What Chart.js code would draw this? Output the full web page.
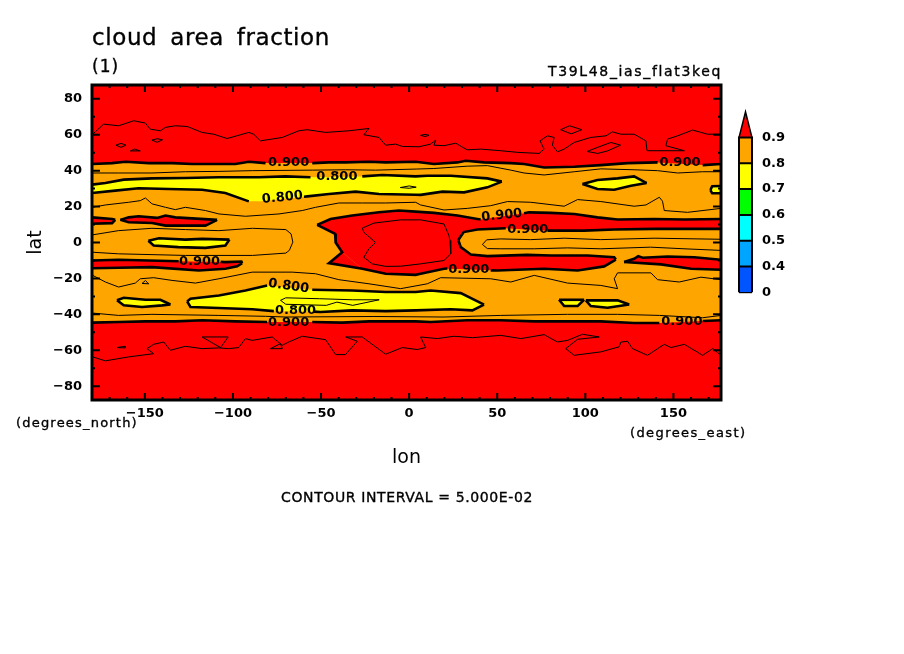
<!DOCTYPE html>
<html>
<head>
<meta charset="utf-8">
<title>cloud area fraction</title>
<script src="https://cdn.jsdelivr.net/npm/chart.js@4"></script>
<style>
html, body { margin: 0; background: #fff; }
#wrap { position: relative; width: 904px; height: 654px; overflow: hidden; font-family: "DejaVu Sans", sans-serif; color: #000; }
#wrap canvas { position: absolute; }
.txt { position: absolute; white-space: nowrap; line-height: 1; -webkit-text-stroke: .35px #000; }
</style>
</head>
<body>
<div id="wrap">
  <canvas id="mapChart" width="904" height="654" style="left:0;top:0"></canvas>
  <canvas id="barChart" width="70" height="216" style="left:729px;top:94px"></canvas>
  <div class="txt" style="left:92px;top:26px;font-size:23px;letter-spacing:.6px;word-spacing:5px">cloud area fraction</div>
  <div class="txt" style="left:92px;top:58px;font-size:17px;letter-spacing:1px">(1)</div>
  <div class="txt" style="left:548px;top:64px;font-size:14px;letter-spacing:1.65px">T39L48_ias_flat3keq</div>
  <div class="txt" style="left:16px;top:416px;font-size:13px;letter-spacing:1.2px">(degrees_north)</div>
  <div class="txt" style="left:630px;top:426px;font-size:13px;letter-spacing:1.4px">(degrees_east)</div>
  <div class="txt" style="left:281px;top:490px;font-size:14px;letter-spacing:.62px">CONTOUR INTERVAL = 5.000E-02</div>
</div>
<script>
const lonTicks = [-150, -100, -50, 0, 50, 100, 150];
const latTicks = [-80, -60, -40, -20, 0, 20, 40, 60, 80];
const barLabels = ["0", "0.4", "0.5", "0.6", "0.7", "0.8", "0.9"];
const barColors = ["#0055ff", "#00a5ff", "#00ffff", "#00ff00", "#ffff00", "#ffa500"];

// edge of the orange belt (0.9 contour)
const north90West = [[-180,43.7],[-168.6,44.2],[-161,45],[-147.8,44.2],[-134.6,44.2],[-123.2,43.7],[-98.6,43.7],[-91,45],[-81.5,44.2]];
const north90Mid = [[-55,44.2],[-45.5,44.6],[-36.1,44.6],[-22.8,45],[-13.3,44.6],[3.7,45],[14.1,43.7],[27.4,44.6],[32.1,45.5],[42.5,44.6],[57.7,44.2],[65.2,43.7],[76.6,41.8],[93.7,42.2],[108.8,43.1],[124,44.2],[141,44.6]];
const north90East = [[166.6,43.1],[177,43.7]];
const south90West = [[-180,-44.6],[-164.9,-44.3],[-149.7,-43.9],[-132.7,-43.9],[-117.5,-43.3],[-98.6,-43.9],[-80.6,-44.3]];
const south90Mid = [[-55,-44.3],[-38,-44.6],[-22.8,-43.9],[3.7,-43.9],[12.2,-44.3],[33,-43.3],[52,-43.3],[71,-43.9],[89.9,-43.9],[108.8,-43.9],[127.7,-44.8],[142,-44.8]];
const south90East = [[166.6,-43.7],[177,-43.3]];

// yellow, northern belt
const yellowNorthTopW = [[-180,32.2],[-172.4,33.1],[-162,35],[-145.9,35.7],[-127,35.9],[-108,36.3],[-85.3,36.3],[-70.2,36.8],[-56,36.3]];
const yellowNorthTopE = [[-26.6,36.8],[-15.2,37.6],[3.7,36.8],[10.3,37.2],[23.6,37.2],[44.4,35.7],[52.6,33.9]];
const yellowNorthBotW = [[-180,27.6],[-166.8,28.9],[-153.5,30.2],[-136.5,29.8],[-117.5,29.4],[-104.3,27.6],[-91,22.9],[-84,23]];
const yellowNorthBotE = [[-59.7,25.5],[-57.8,25.7],[-45.5,27],[-30.4,28.3],[-17.1,27],[3.7,26.6],[6.5,26.5],[18.9,28.3],[31.2,27.9],[44.4,30.7],[52.6,33.9]];
const yellowLens = [[-5,30.6],[0,31.5],[4,30.8],[0,30.2],[-5,30.6]];
const yellowNeTop = [[98.4,32.6],[106.9,34.8],[118.3,35.7],[127.7,36.8],[134.8,33.1]];
const yellowNeBot = [[98.4,32.6],[106.9,29.8],[116.4,29.4],[125.9,31.6],[134.8,33.1]];
const yellowEdgeTop = [[171,29.2],[172,31.3],[177,31.5]];
const yellowEdgeBot = [[171,29.2],[172,27.4],[177,27.4]];
const yellowEqTop = [[-148,1],[-142,2.4],[-127,1.6],[-117.5,2],[-102,1.6]];
const yellowEqBot = [[-148,1],[-145,-1.7],[-131,-2.6],[-115.6,-3],[-104.3,-1.7],[-102,1.6]];

// yellow, southern belt
const yellowSouthTopW = [[-126,-32.8],[-124.1,-31.3],[-108,-29.5],[-92.9,-26.7],[-80.6,-23.9]];
const yellowSouthTopE = [[-55,-26.3],[-32.3,-26.7],[-13.3,-27.6],[3.7,-27.6],[12.2,-26.7],[29.3,-28.2],[42.5,-34.6]];
const yellowSouthBotW = [[-126,-32.8],[-124.1,-35.9],[-108,-36.5],[-89.1,-37.2],[-76.8,-38.2]];
const yellowSouthBotE = [[-54,-38.5],[-50.3,-38.7],[-32.3,-37.8],[-13.3,-38.2],[3.7,-37.8],[23.6,-37.2],[35.9,-37.8],[42.5,-34.6]];
const yellowSwTop = [[-165.8,-32.2],[-162,-30.8],[-149.7,-31.9],[-141.2,-31.9],[-135.5,-34.5]];
const yellowSwBot = [[-165.8,-32.2],[-162,-35],[-151.6,-35.9],[-140.2,-35],[-135.5,-34.5]];
const yellowSeTop1 = [[85.1,-31.9],[99.3,-31.9]];
const yellowSeBot1 = [[85.1,-31.9],[88,-35.4],[95.6,-35.4],[99.3,-31.9]];
const yellowSeTop2 = [[100.3,-32.2],[118.3,-32.2],[124.9,-34.5]];
const yellowSeBot2 = [[100.3,-32.2],[103.1,-35.4],[112.6,-36.3],[124.9,-34.5]];
const yellowInner = [[-73,-32.2],[-70,-30.8],[-51,-31.3],[-32,-31.9],[-17,-31.9],[-32,-35],[-41,-33.2],[-47,-35],[-70,-34.4],[-73,-32.2]];

// red islands either side of the central blob
const redWest1Top = [[-180,14],[-168.6,13.1],[-166.8,12.6]];
const redWest1Bot = [[-180,10.4],[-168.6,10.8],[-166.8,12.6]];
const redWest2Top = [[-163.9,12.6],[-159.2,14],[-153.5,14.6],[-143.1,13.7],[-138.3,15],[-132.7,14],[-109,12.6]];
const redWest2Bot = [[-163.9,12.6],[-159.2,11.3],[-145.9,10.9],[-138.3,9.4],[-115.6,9.4],[-109,12.6]];
const redSwTopW = [[-180,-10],[-164.9,-9.6],[-147.8,-10],[-130.8,-10.4]];
const redSwTopE = [[-107,-10.8],[-104.3,-10.9],[-95.2,-10.6],[-94.8,-11.5]];
const redSwBot = [[-180,-14.3],[-164.9,-14.1],[-146,-13.7],[-119.4,-15.6],[-104.3,-14.6],[-97.6,-13.3],[-94.8,-11.5]];
const redSeTop = [[122,-10.9],[127.7,-9.1],[130,-7.6],[132.5,-8.5],[146.7,-7.8],[161.8,-8.2],[177,-9.6]];
const redSeBot = [[122,-10.9],[142.9,-12.2],[160,-14.6],[177,-15.2]];

// central red blob with its two arms
const redTopW = [[-52.2,9.8],[-44.6,13.1],[-32.3,15],[-17.1,16.8],[-5.8,17.8],[3.7,17.2],[14.1,16.5],[27.4,15],[38.7,13.1],[40.6,12.8]];
const redTopE = [[65.2,16.3],[68.1,16.8],[80.4,16.5],[93.7,15.9],[106.9,14],[118.3,12.8],[139.1,13.1],[156.2,12.8],[177,13.1]];
const tongueTopW = [[28,1.1],[28.3,2],[31,5.8],[38.7,7.2],[54.8,7.9]];
const tongueTopE = [[78.5,6.6],[82.3,6.6],[99.3,6.6],[116.4,7.2],[139.1,7.6],[177,7.6]];
const tongueLow = [[28,1.1],[29.3,-2.6],[35,-6.7],[44.4,-7.6],[67.1,-6.9],[80.4,-7.2],[101.2,-7.2],[116.4,-8.2],[117.3,-9.5]];
const armBotE = [[46.3,-15.5],[50,-15.6],[76.6,-14.6],[95.6,-15.6],[110.7,-13.3],[117.3,-9.5]];
const armBotW = [[-52.2,9.8],[-42,4.8],[-41.7,0],[-38,-5.4],[-45.5,-11.5],[-26.6,-14.6],[-13.3,-17.4],[3.7,-18],[6.5,-17.4],[19.8,-14.6],[21.7,-14.5]];
const coreTop = [[-52.2,9.8],[-44.6,13.1],[-32.3,15],[-17.1,16.8],[-5.8,17.8],[3.7,17.2],[14.1,16.5],[28.5,15]];
const coreBot = [[-52.2,9.8],[-42,4.8],[-41.7,0],[-38,-5.4],[-26.6,-14.6],[-13.3,-17.4],[3.7,-18],[6.5,-17.4],[19.8,-14.6],[28.5,-14.8]];
const tipTop = [[-45.5,-11.5],[-38,-5.4],[-26.6,-14.6]];
const tipBot = [[-45.5,-11.5],[-26.6,-14.6]];

// thin contours
const thinNorth1 = [[-179.6,38.7],[-165,38.7],[-146,38.7],[-127,39.4],[-108,39.6],[-89,40],[-55,40.3],[-36,40.5],[-19,40.3],[4,40.9],[14,41.2],[33,42.5],[44.4,42.8],[57.7,40.3],[65.2,38.7],[76.6,37.6],[93.7,39.4],[108.8,41],[127.7,40.5],[141,40],[152.4,38.7],[166.6,39.4],[177,39.4]];
const thinNorth2 = [[-179.6,19.6],[-172.4,20.9],[-159.2,22.4],[-152.6,23.3],[-149.7,24.8],[-145.9,21.5],[-138.3,19.6],[-132.7,18.3],[-127,19.6],[-115.6,17.8],[-108,15.9],[-92.9,14.6],[-73.9,15.9],[-60.7,17.8],[-53.1,19.6],[-39.9,22],[-26.6,22],[-13.3,22],[3.7,22.4],[6.5,20.9],[19.8,18.1],[33,19],[46.3,20.5],[55.8,22.8],[69,22.4],[88,20.2],[95.6,23.9],[108.8,22.8],[127.7,20.2],[134.4,20.9],[142,25.2],[143.8,23],[144.8,17.8],[158,16.8],[177,19]];
const thinEqWest = [[-180,4.2],[-165,6.6],[-146,7.9],[-127,7.2],[-108,6.6],[-89,7.9],[-70,7.2],[-67,4.8],[-66,0.2],[-68,-4.4],[-70,-5.9],[-89,-7.2],[-127,-7.2],[-165,-6.3],[-180,-5.4]];
const thinEqEast = [[177,1.8],[139,2.4],[108.8,1.6],[88,2.4],[69,1.6],[52,2],[44,1.5],[41.6,-1.1],[44.4,-3.4],[52,-3.5],[71,-3.5],[89.9,-3],[108.8,-3.5],[137,-2.6],[156,-3.5],[177,-4.4]];
const thinCore = [[-4.8,12.6],[6.5,12.6],[19.8,10.3],[22.6,3.9],[23.2,1.1],[23.6,-6.3],[19.8,-10],[6.5,-11.9],[-4.8,-13.2],[-13.3,-13.3],[-20.9,-11.9],[-25.7,-8.2],[-22.8,-3.5],[-19,0],[-25.7,5.7],[-26.6,8],[-20,10.8],[-13.3,11.6],[-4.8,12.6]];
const thinSouth1 = [[-179.6,-18.3],[-172.4,-22],[-164.9,-24.8],[-155.4,-22.6],[-152.6,-20.2],[-145,-19.6],[-134.6,-21.1],[-121.3,-22.6],[-108,-20.2],[-89.1,-16.5],[-66.4,-16.5],[-53.1,-17.4],[-39.9,-20.7],[-22.8,-23],[-4.8,-25.7],[10.3,-23],[17.9,-19.6],[46.3,-20.2],[57.7,-22],[71,-18.3],[89.9,-22.6],[108.8,-23.9],[118.3,-25.7],[116.4,-20.2],[118.3,-16.9],[137.2,-16.9],[141,-20.7],[153.3,-22],[165.6,-19.3],[177,-20.7]];
const thinSpeck = [[-151.6,-22.8],[-149.7,-21.2],[-147.8,-23],[-151.6,-22.8]];
const thinSouth2 = [[-179.6,-39.3],[-164.9,-40.6],[-146,-40],[-108,-40.6],[-81.5,-41.1],[-70,-41.5],[-20,-41.2],[19.8,-41.5],[52,-40.6],[89.9,-40],[118.3,-40],[142,-40.6],[166.6,-41.9],[177,-40.6]];

// thin contours inside the polar red caps
const capNorth = [[-179.6,60.3],[-173.4,65.9],[-164.9,65],[-156.3,67.8],[-149.7,66.5],[-146.9,63.1],[-141.2,62.2],[-138.3,64.1],[-132.7,65],[-126,64.6],[-117.5,61.3],[-110.9,60.3],[-103.3,57.9],[-91,61.3],[-88.2,60.3],[-84.4,56.6],[-72,58.5],[-62.6,62.2],[-57.9,62.8],[-47.4,61.3],[-34.2,62.2],[-22.8,63.5],[-25.7,60],[-17.1,58.5],[-13.3,54.2],[-7.7,54.8],[-3.9,53.5],[5.6,53.3],[12.2,54.8],[15.1,57],[14.1,54.2],[19.8,53.9],[26.4,55.3],[33,51.6],[40.6,52],[52,51.1],[61.5,50.2],[73.8,49.6],[76.6,52],[74.3,56.6],[78.5,59.4],[82.3,58.5],[81.3,54.2],[84.2,50.5],[88,52],[93.7,55.7],[103.1,58.5],[111.7,59.4],[115.4,61.6],[120.2,60.3],[127.7,60.3],[134.4,56.6],[135,51.1],[156.2,51.1],[145.7,53.9],[146.7,57.6],[152.4,59.4],[160.9,62.6],[169.4,60.3],[177,60.3]];
const capNorthA = [[-166.4,54.2],[-163.5,55.2],[-160.7,54.2],[-163.5,53],[-166.4,54.2]];
const capNorthB = [[-158.2,51],[-155.8,52],[-152.6,51],[-158.2,51]];
const capNorthC = [[-146,57],[-143,57.8],[-140,57.2],[-143,55.8],[-146,57]];
const capNorthD = [[6.5,59.7],[9,60.2],[11.3,59.7],[9,59],[6.5,59.7]];
const capNorthE = [[86,62.8],[91,65],[98,62.8],[92,60.5],[86,62.8]];
const capNorthF = [[101,50.7],[107,53],[114.5,55.7],[120,54.2],[112.6,51],[107,49.6],[101,50.7]];
const capSouth = [[-179.6,-63.7],[-172.4,-65.9],[-159.2,-63.7],[-145,-61.9],[-148.8,-59.1],[-145,-56.7],[-139.3,-55.4],[-135.5,-60],[-127,-57.8],[-117.5,-59.1],[-108,-58.7],[-102.4,-59.1],[-96.7,-58.5],[-92.9,-53.5],[-89.1,-54.5],[-77.7,-52.6],[-72,-57.2],[-68.3,-55.4],[-60.7,-52.2],[-47.4,-54.1],[-41.7,-62.4],[-36.1,-62.4],[-29.4,-55],[-36,-52.6],[-26.6,-52.6],[-13.3,-62.2],[-3.9,-58.5],[4.6,-59.6],[9.4,-58.5],[6.5,-52.6],[16,-53.5],[25.5,-52.2],[35.9,-53],[52,-51.7],[63.4,-53.5],[76.6,-51.3],[84.2,-55.4],[89.9,-54.5],[98.4,-51.1],[107.9,-52.6],[95.6,-53.9],[88.9,-59.1],[93.7,-62.8],[108.8,-60.9],[119.2,-58.1],[120.2,-55.4],[124,-55],[126.8,-59.1],[135.3,-62.8],[144.8,-56.7],[148.6,-58.5],[156.2,-56.7],[166.6,-62.8],[172.3,-59.1],[177,-62.8]];
const capSouthA = [[-117.5,-52.6],[-102.7,-52.6],[-107,-58.5],[-111,-56.3],[-117.5,-52.6]];
const capSouthB = [[-78.7,-59.1],[-73,-56.3],[-72,-59.1],[-78.7,-59.1]];
const capSouthC = [[-165.8,-58.5],[-161.2,-57.8],[-161,-58.7],[-165.8,-58.5]];

const labelText = ["0.900", "0.800", "0.800", "0.900", "0.900", "0.900", "0.900", "0.900", "0.800", "0.800", "0.900", "0.900"];
const labelLon = [-68.4, -41, -71.9, 52.6, 67.3, 153.7, -119, 33.8, -68.4, -64.5, -68.4, 154.8];
const labelLat = [44.4, 36.7, 25, 15, 7.2, 44.4, -10.6, -15, -24.4, -37.8, -44.4, -43.9];
const labelTilt = [0, 0, -6, -6, 0, 0, 0, 0, 8, 0, 0, 0];

const RED = "#ff0000", ORANGE = "#ffa500", YELLOW = "#ffff00";
const THICK = 2.6, THIN = 1;
const datasets = [];

function add(data, extra) {
    datasets.push(Object.assign({
        data: data,
        showLine: true,
        pointRadius: 0,
        borderWidth: 0,
        borderColor: "#000",
        tension: 0,
        fill: false,
        order: 1000 - datasets.length
    }, extra));
}

// filled area between an upper and a lower edge
function band(top, bottom, color, edgeWidth) {
    add(top, { fill: "+1", backgroundColor: color, borderWidth: edgeWidth || 0 });
    add(bottom, { borderWidth: edgeWidth || 0 });
}

function contour(list, width) {
    list.forEach(item => add(item, { borderWidth: width }));
}

band([[-180,87.7],[177,87.7]], [[-180,-87.7],[177,-87.7]], RED);
band([...north90West, ...north90Mid, ...north90East], [...south90West, ...south90Mid, ...south90East], ORANGE);

band([...yellowNorthTopW, ...yellowNorthTopE], [...yellowNorthBotW, ...yellowNorthBotE], YELLOW);
band(yellowNeTop, yellowNeBot, YELLOW, THICK);
band(yellowEdgeTop, yellowEdgeBot, YELLOW, THICK);
band(yellowEqTop, yellowEqBot, YELLOW, THICK);
band([...yellowSouthTopW, ...yellowSouthTopE], [...yellowSouthBotW, ...yellowSouthBotE], YELLOW);
band(yellowSwTop, yellowSwBot, YELLOW, THICK);
band(yellowSeTop1, yellowSeBot1, YELLOW, THICK);
band(yellowSeTop2, yellowSeBot2, YELLOW, THICK);

band(redWest1Top, redWest1Bot, RED, THICK);
band(redWest2Top, redWest2Bot, RED, THICK);
band([...redSwTopW, ...redSwTopE], redSwBot, RED);
band(redSeTop, redSeBot, RED, THICK);
band(coreTop, coreBot, RED);
band(tipTop, tipBot, RED);
band([[28,15.1], ...redTopW.slice(8), ...redTopE], [...tongueTopW, ...tongueTopE], RED);
band(tongueLow, [[28,-14.8], ...armBotE], RED);

contour([north90West, north90Mid, north90East, south90West, south90Mid, south90East,
    yellowNorthTopW, yellowNorthTopE, yellowNorthBotW.slice(0, 7), yellowNorthBotE,
    yellowSouthTopW, yellowSouthTopE, yellowSouthBotW, yellowSouthBotE,
    redSwTopW, redSwTopE, redSwBot,
    redTopW, redTopE, tongueTopW, tongueTopE, tongueLow, armBotE, armBotW], THICK);

contour([yellowLens, yellowInner, thinNorth1, thinNorth2, thinEqWest, thinEqEast, thinCore, thinSouth1, thinSpeck, thinSouth2,
    capNorth, capNorthA, capNorthB, capNorthC, capNorthD, capNorthE, capNorthF, capSouth, capSouthA, capSouthB, capSouthC], THIN);

// frame, inward ticks and contour labels
const mapDecor = {
    id: "mapDecor",
    afterDatasetsDraw(chart) {
        const { ctx, chartArea: a, scales: { x, y } } = chart;
        ctx.save();
        ctx.strokeStyle = "#000";
        ctx.lineWidth = 2;
        for (let lon = -170; lon <= 170; lon += 10) {
            const px = x.getPixelForValue(lon);
            const len = lon % 50 === 0 ? 7 : 3;
            ctx.beginPath();
            ctx.moveTo(px, a.top); ctx.lineTo(px, a.top + len);
            ctx.moveTo(px, a.bottom); ctx.lineTo(px, a.bottom - len);
            ctx.stroke();
        }
        for (let lat = -80; lat <= 80; lat += 10) {
            const py = y.getPixelForValue(lat);
            const len = lat % 20 === 0 ? 8 : 3;
            ctx.beginPath();
            ctx.moveTo(a.left, py); ctx.lineTo(a.left + len, py);
            ctx.moveTo(a.right, py); ctx.lineTo(a.right - len, py);
            ctx.stroke();
        }
        ctx.lineWidth = 3;
        ctx.strokeRect(a.left, a.top, a.right - a.left, a.bottom - a.top);

        ctx.fillStyle = "#000";
        ctx.font = 'bold 13px "DejaVu Sans"';
        ctx.textAlign = "center";
        ctx.textBaseline = "middle";
        labelText.forEach((text, i) => {
            ctx.save();
            ctx.translate(x.getPixelForValue(labelLon[i]), y.getPixelForValue(labelLat[i]));
            ctx.rotate(labelTilt[i] * Math.PI / 180);
            ctx.fillText(text, 0, 0);
            ctx.restore();
        });
        ctx.restore();
    }
};

const tickFont = { family: '"DejaVu Sans"', size: 13, weight: "bold" };

new Chart(document.getElementById("mapChart"), {
    type: "scatter",
    data: { datasets },
    plugins: [mapDecor],
    options: {
        responsive: false,
        animation: false,
        layout: { padding: { left: 0, right: 183, top: 85, bottom: 184 } },
        plugins: { legend: { display: false }, tooltip: { enabled: false } },
        scales: {
            x: {
                type: "linear",
                min: -180,
                max: 177,
                grid: { display: false, drawTicks: false },
                border: { display: false },
                afterFit(axis) { axis.height = 70; },
                afterBuildTicks(axis) { axis.ticks = lonTicks.map(value => ({ value })); },
                ticks: {
                    color: "#000",
                    font: tickFont,
                    padding: 6,
                    maxRotation: 0,
                    autoSkip: false,
                    callback: value => String(value).replace("-", "\u2212")
                },
                title: { display: true, text: "lon", color: "#000", font: { family: '"DejaVu Sans"', size: 19 }, padding: { top: 0, bottom: 1 } }
            },
            y: {
                type: "linear",
                min: -87.7,
                max: 87.7,
                grid: { display: false, drawTicks: false },
                border: { display: false },
                afterFit(axis) { axis.width = 92; },
                afterBuildTicks(axis) { axis.ticks = latTicks.map(value => ({ value })); },
                ticks: {
                    color: "#000",
                    font: tickFont,
                    padding: 10,
                    autoSkip: false,
                    callback: value => String(value).replace("-", "\u2212")
                },
                title: { display: true, text: "lat", color: "#000", font: { family: '"DejaVu Sans"', size: 19 }, padding: { top: 25, bottom: 0 } }
            }
        }
    }
});

// colour key: one closed cell per level, red arrow on top
const barSets = barColors.map((color, i) => ({
    data: [[0, i], [0, i + 1], [1, i + 1], [1, i]],
    showLine: true,
    pointRadius: 0,
    borderWidth: 2,
    borderColor: "#000",
    backgroundColor: color,
    fill: { value: i },
    clip: false
}));
barSets.push({
    data: [[0, 0], [1, 0]],
    showLine: true,
    pointRadius: 0,
    borderWidth: 2,
    borderColor: "#000",
    clip: false
});
barSets.push({
    data: [[0, 6], [0.5, 7], [1, 6]],
    showLine: true,
    pointRadius: 0,
    borderWidth: 1.5,
    borderColor: "#000",
    backgroundColor: RED,
    fill: { value: 6 },
    clip: false
});

new Chart(document.getElementById("barChart"), {
    type: "scatter",
    data: { datasets: barSets },
    options: {
        responsive: false,
        animation: false,
        layout: { padding: { left: 10, right: 0, top: 6, bottom: 7 } },
        plugins: { legend: { display: false }, tooltip: { enabled: false } },
        scales: {
            x: { type: "linear", display: false, min: 0, max: 1 },
            y: {
                type: "linear",
                position: "right",
                min: 0,
                max: 7,
                grid: { display: false, drawTicks: false },
                border: { display: false },
                afterFit(axis) { axis.width = 47; },
                afterBuildTicks(axis) { axis.ticks = barLabels.map((label, i) => ({ value: i })); },
                ticks: {
                    color: "#000",
                    font: tickFont,
                    padding: 10,
                    autoSkip: false,
                    callback: value => barLabels[value]
                }
            }
        }
    }
});
</script>
</body>
</html>
